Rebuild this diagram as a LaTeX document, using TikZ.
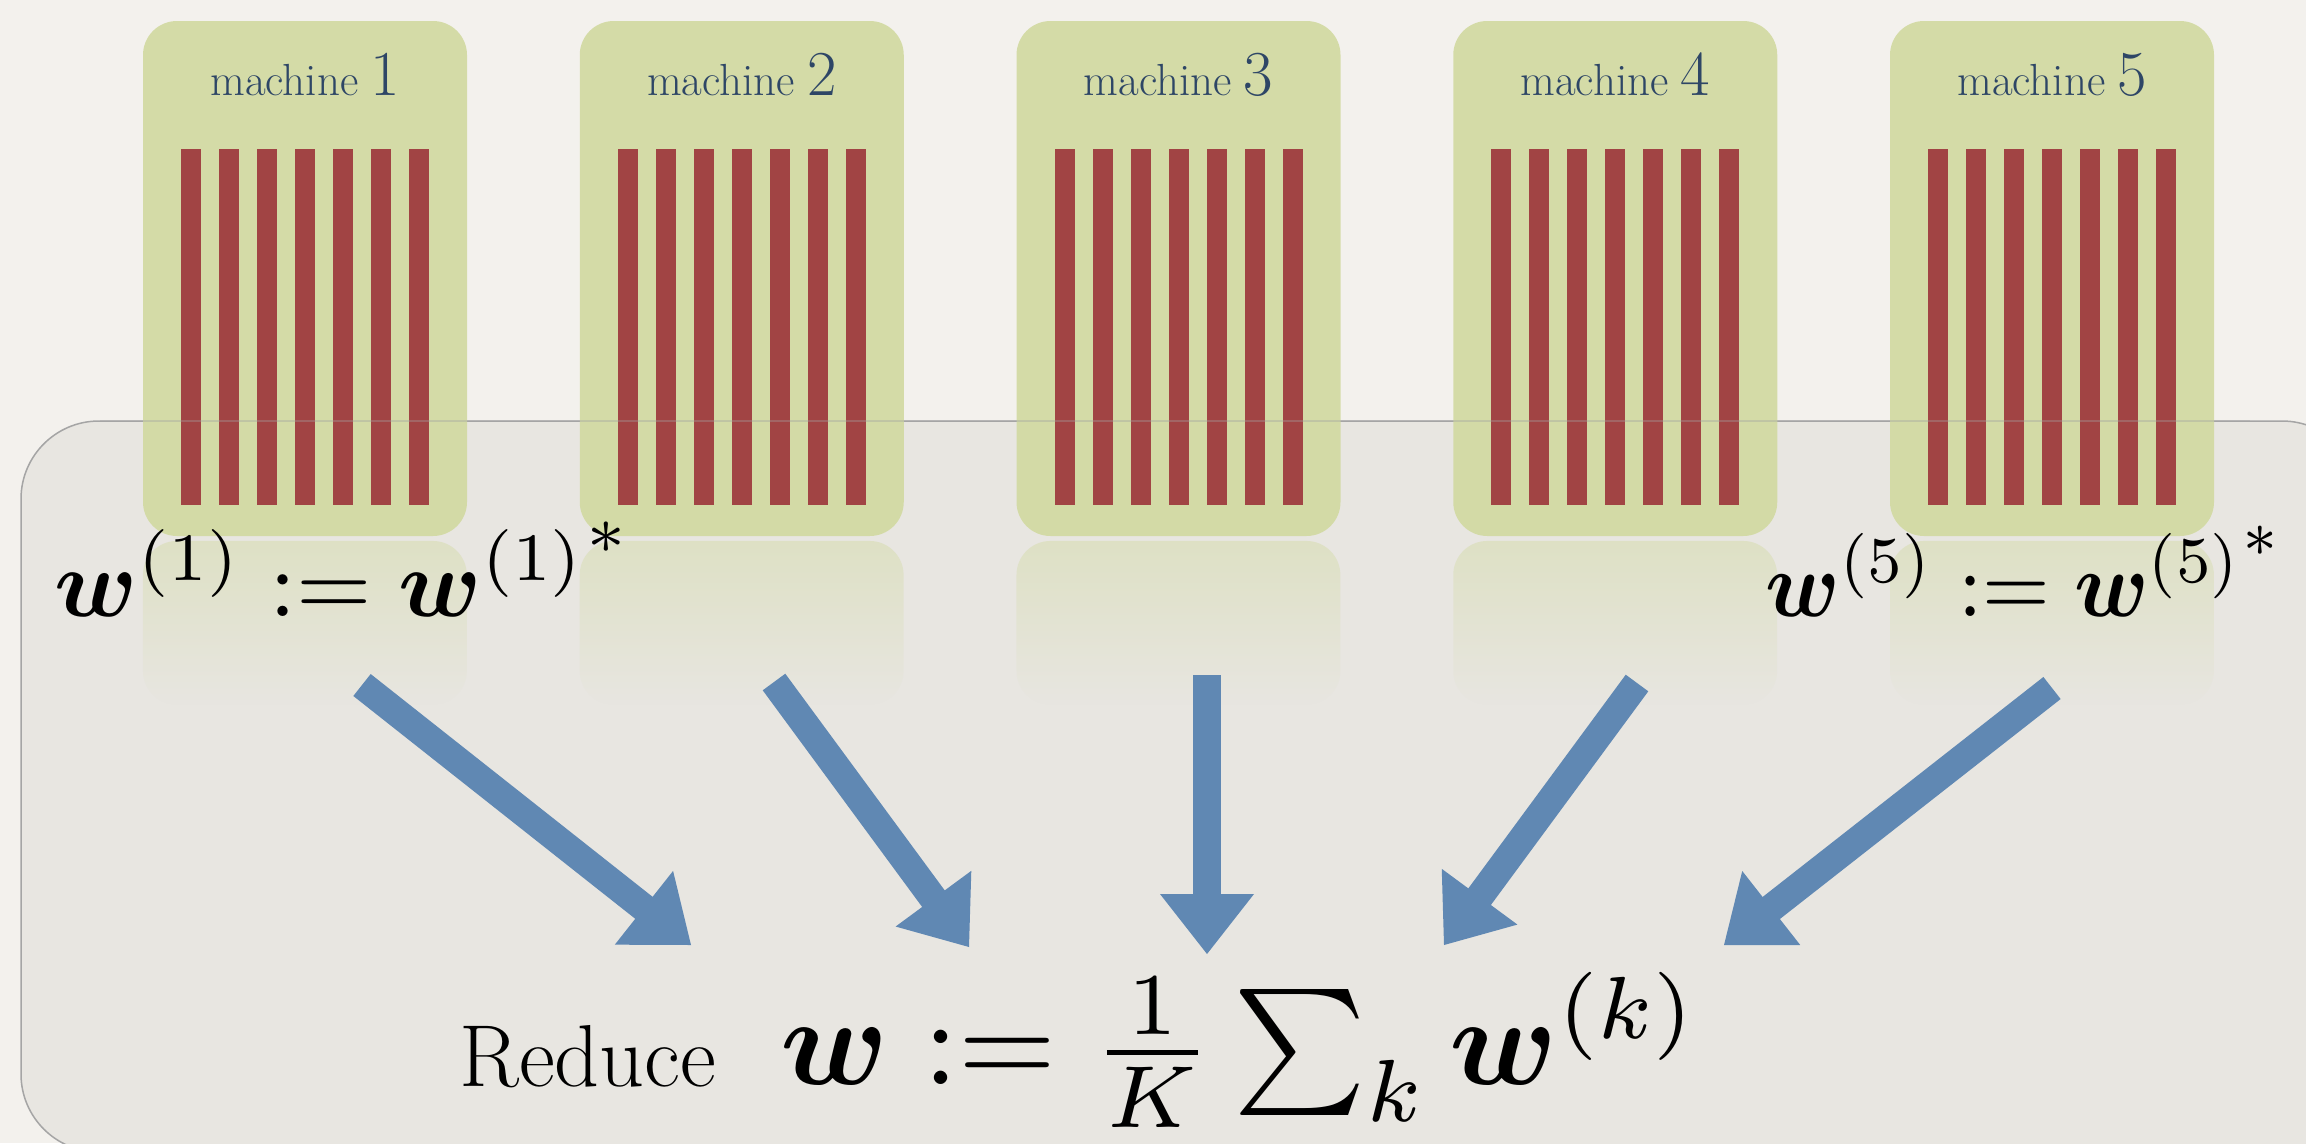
\documentclass[tikz,border=0pt]{standalone}
\usepackage{amsmath}
\usetikzlibrary{calc,fadings}
\definecolor{bgc}{RGB}{243,241,237}
\definecolor{panelc}{RGB}{232,230,225}
\definecolor{panelb}{RGB}{165,165,165}
\definecolor{boxc}{RGB}{210,218,162}
\definecolor{barc}{RGB}{161,68,68}
\definecolor{labc}{RGB}{46,70,102}
\definecolor{arrc}{RGB}{96,136,179}
\newcommand{\fatarrow}[2]{%
  \draw[arrc, line width=28pt] (#1) -- ($(#2)!58pt!(#1)$);
  \fill[arrc] ($(#2)!60pt!(#1)!47pt!90:(#2)$) -- (#2) -- ($(#2)!60pt!(#1)!47pt!-90:(#2)$) -- cycle;}
\begin{document}
\begin{tikzpicture}[x=1pt,y=-1pt,
  machbox/.style={fill=boxc, rounded corners=34pt, minimum width=324pt, minimum height=515pt, inner sep=0pt, fill opacity=0.92},
  barbox/.style={fill=barc},
  lab/.style={text=labc, font=\fontsize{45}{50}\selectfont, anchor=base, inner sep=0pt},
  formula/.style={inner sep=0pt, font=\normalsize},
  bigformula/.style={inner sep=0pt, font=\normalsize, scale=12.6},
  reflect/.style={fill=boxc, fill opacity=0.45, path fading=south}]
\useasboundingbox (0,0) rectangle (2306,1143);
\clip (0,0) rectangle (2306,1143);
\fill[bgc] (0,0) rectangle (2306,1143);
% panel
\draw[fill=panelc, draw=panelb, line width=1.5pt, rounded corners=78pt] (21,421) rectangle (2360,1152);
% machines
\foreach \i in {1,...,5}{
  \pgfmathsetmacro{\cx}{305+436.75*(\i-1)}
  \fill[reflect, rounded corners=34pt] (\cx-162,705) -- (\cx-162,541) -- (\cx+162,541) -- (\cx+162,705) -- cycle;
  \node[machbox] (m\i) at (\cx,278.5) {};
  \foreach \j in {0,...,6}{
    \fill[barbox] (\cx-124+38*\j,149) rectangle ++(20,356);
  }
  \node[lab] (lab\i) at (\cx,95) {machine\hspace{12pt}{\fontsize{64}{66}\selectfont\i}};
}
\draw[panelb, opacity=0.35, line width=1.5pt] (100,421) -- (2250,421);
% formulas
\node[formula, scale=9.7, anchor=base west] (f1) at (53,616) {$\boldsymbol{w}^{(1)} := {\boldsymbol{w}^{(1)}}^{*}$};
\node[formula, xscale=8.7, yscale=9.35, anchor=base east] (f5) at (2284,616) {$\boldsymbol{w}^{(5)} := {\boldsymbol{w}^{(5)}}^{*}$};
\node[inner sep=0pt, anchor=base west, font=\fontsize{88}{94}\selectfont] (red) at (459,1086) {Reduce};
\node[bigformula, anchor=base west] (sum) at (778,1084) {$\boldsymbol{w} := \frac{1}{K}\sum_k \boldsymbol{w}^{(k)}$};
% arrows
\coordinate (t1) at (362,685);  \coordinate (h1) at (691,945);
\coordinate (t2) at (774,682);  \coordinate (h2) at (969,947);
\coordinate (t3) at (1207,675); \coordinate (h3) at (1207,954);
\coordinate (t4) at (1637,683); \coordinate (h4) at (1444,945);
\coordinate (t5) at (2052,688); \coordinate (h5) at (1724,945);
\fatarrow{t1}{h1}
\fatarrow{t2}{h2}
\fatarrow{t3}{h3}
\fatarrow{t4}{h4}
\fatarrow{t5}{h5}
\end{tikzpicture}
\end{document}
